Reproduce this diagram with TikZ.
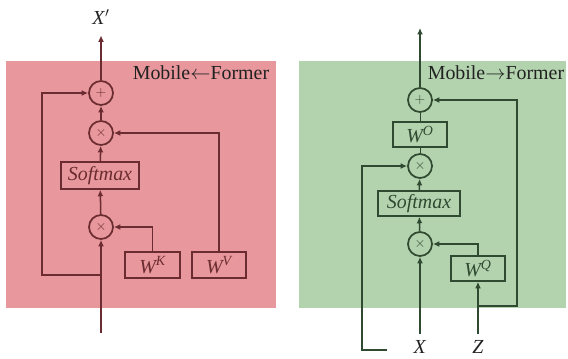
\documentclass[tikz,border=0pt]{standalone}
\usepackage{fontspec}
\setmainfont{Liberation Serif}
\usetikzlibrary{arrows.meta, positioning}
\definecolor{mfpink}{HTML}{E8979C}
\definecolor{mfpinkline}{HTML}{6A2C30}
\definecolor{mfgreen}{HTML}{B3D3AE}
\definecolor{mfgreenline}{HTML}{2F4A30}
\definecolor{mftext}{HTML}{222222}

\begin{document}
\begin{tikzpicture}[
  x=0.3mm, y=-0.3mm,
  op/.style={draw, circle, line width=1.5pt, minimum size=0.72cm, inner sep=0pt, font=\fontsize{12}{12}\selectfont},
  blk/.style={draw, line width=1.4pt, minimum height=0.78cm, inner sep=0pt, font=\fontsize{17}{20}\selectfont\itshape},
  arr/.style={-{Latex[length=5.5pt,width=5pt]}, line width=1.3pt},
  lbl/.style={text=mftext, font=\fontsize{17}{20}\selectfont}
]
\useasboundingbox (0,0) rectangle (568,358);

% panels
\fill[mfpink] (6,61) rectangle (276,308);
\fill[mfgreen] (299,61) rectangle (566,308);
\node[lbl] (titleL) at (201,73) {Mobile$\leftarrow$Former};
\node[lbl] (titleR) at (496,73) {Mobile$\rightarrow$Former};

% Mobile <- Former
\begin{scope}[color=mfpinkline]
\node[op] (addL) at (101,93) {$+$};
\node[op] (mulLa) at (101,133) {$\times$};
\node[blk, minimum width=2.34cm, minimum height=0.81cm] (smL) at (100,175.5) {Softmax};
\node[op] (mulLb) at (101,227) {$\times$};
\node[blk, minimum width=1.65cm] (wkL) at (152.5,265) {W\textsuperscript{K}};
\node[blk, minimum width=1.62cm] (wvL) at (219,265) {W\textsuperscript{V}};
\node[lbl] (xoutL) at (101,17) {\textit{X}$'$};
\coordinate (inL) at (101,333);
\coordinate (skipL) at (101,275);

\draw[arr] (inL) -- (mulLb);
\draw[arr] (mulLb) -- (smL);
\draw[arr] (smL) -- (mulLa);
\draw[arr] (mulLa) -- (addL);
\draw[arr, shorten >=2mm] (addL) -- (xoutL);
\draw[arr] (skipL) -- ++(-59,0) |- (addL);
\draw[arr] (wkL) |- (mulLb);
\draw[arr] (wvL) |- (mulLa);
\end{scope}

% Mobile -> Former
\begin{scope}[color=mfgreenline]
\node[op] (addR) at (420,100) {$+$};
\node[blk, minimum width=1.62cm, minimum height=0.75cm] (woR) at (420,134.5) {W\textsuperscript{O}};
\node[op] (mulRa) at (420,166) {$\times$};
\node[blk, minimum width=2.46cm, minimum height=0.75cm] (smR) at (419,203.5) {Softmax};
\node[op] (mulRb) at (420,244) {$\times$};
\node[blk, minimum width=1.62cm, minimum height=0.75cm] (wqR) at (478,268.5) {W\textsuperscript{Q}};
\node[lbl] (xR) at (420,347) {\textit{X}};
\node[lbl] (zR) at (478,347) {\textit{Z}};
\coordinate (outR) at (420,28);
\coordinate (inR) at (420,334);
\coordinate (zinR) at (478,334);
\coordinate (zturn) at (478,306);
\coordinate (vinR) at (387,350);

\draw[arr] (inR) -- (mulRb);
\draw[arr] (mulRb) -- (smR);
\draw[arr] (smR) -- (mulRa);
\draw (mulRa) -- (woR);
\draw (woR) -- (addR);
\draw[arr] (addR) -- (outR);
\draw[arr] (zinR) -- (wqR);
\draw[arr] (wqR) |- (mulRb);
\draw[arr] (zturn) -- ++(39,0) |- (addR);
\draw[arr] (vinR) -- ++(-25,0) |- (mulRa);
\end{scope}
\end{tikzpicture}
\end{document}
